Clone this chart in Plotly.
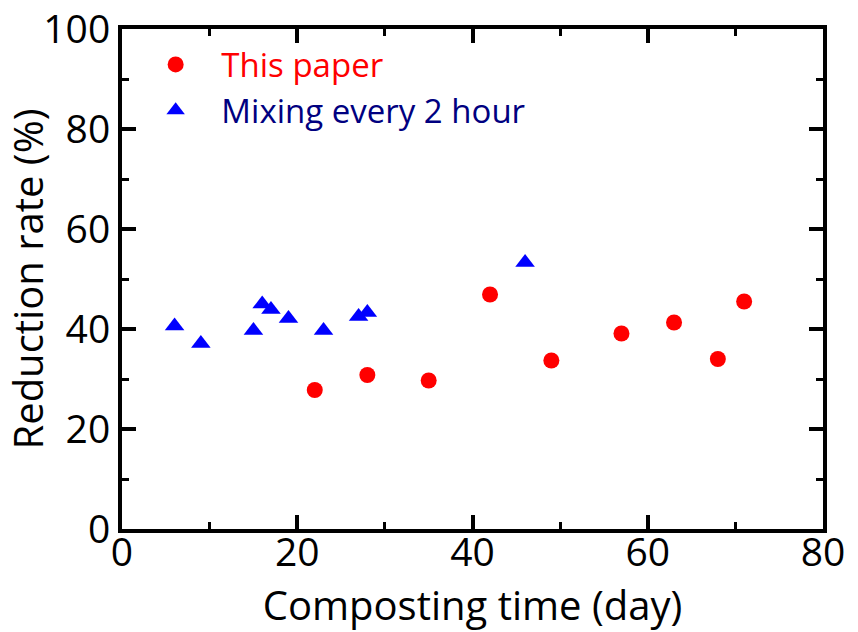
import plotly.graph_objects as go

# Data
paper_day = [22, 28, 35, 42, 49, 57, 63, 68, 71]
paper_rate = [27.8, 30.8, 29.7, 46.9, 33.7, 39.1, 41.3, 34.0, 45.5]

mix_day = [6, 9, 15, 16, 17, 19, 23, 27, 28, 46]
mix_rate = [40.6, 37.1, 39.7, 45.0, 43.9, 42.1, 39.7, 42.5, 43.3, 53.3]

x_ticks = [0, 20, 40, 60, 80]
y_ticks = [0, 20, 40, 60, 80, 100]

FONT = "Open Sans"
PAD = "&nbsp;&nbsp;&nbsp;"

fig = go.Figure()
fig.add_trace(go.Scatter(
    x=paper_day, y=paper_rate, mode="markers",
    name=PAD + "<span style='color:#ff0000'>This paper</span>",
    marker=dict(symbol="circle", size=16, color="#ff0000"),
))
fig.add_trace(go.Scatter(
    x=mix_day, y=mix_rate, mode="markers",
    name=PAD + "<span style='color:#000080'>Mixing every 2 hour</span>",
    marker=dict(symbol="triangle-up", size=17, color="#0000ff"),
))

axis_common = dict(
    showline=True, linewidth=4, linecolor="black", mirror="ticks",
    ticks="inside", ticklen=14, tickwidth=4, tickcolor="black",
    showgrid=False, zeroline=False, automargin=False,
    tickfont=dict(family=FONT, size=39, color="black"),
)

fig.update_xaxes(
    range=[0, 80], tickvals=x_ticks, ticktext=[str(v) for v in x_ticks],
    minor=dict(ticks="inside", ticklen=7, tickwidth=3, dtick=10, tick0=0, tickcolor="black"),
    ticklabelstandoff=-14,
    title=dict(text="Composting time (day)", font=dict(family=FONT, size=40, color="black"), standoff=0),
    **axis_common,
)
fig.update_yaxes(
    range=[0, 100], tickvals=y_ticks, ticktext=[str(v) for v in y_ticks],
    minor=dict(ticks="inside", ticklen=7, tickwidth=3, dtick=10, tick0=0, tickcolor="black"),
    title=dict(text="Reduction rate (%)", font=dict(family=FONT, size=40, color="black"), standoff=0),
    **axis_common,
)

fig.update_layout(
    width=858, height=632,
    margin=dict(l=122, r=35, t=29, b=103, autoexpand=False),
    plot_bgcolor="white", paper_bgcolor="white",
    font=dict(family=FONT, size=32, color="black"),
    showlegend=True,
    legend=dict(x=0.048, y=0.985, xanchor="left", yanchor="top",
                bgcolor="rgba(0,0,0,0)", borderwidth=0, tracegroupgap=0,
                font=dict(family=FONT, size=33), itemsizing="trace"),
)

fig.write_html("out.html")
